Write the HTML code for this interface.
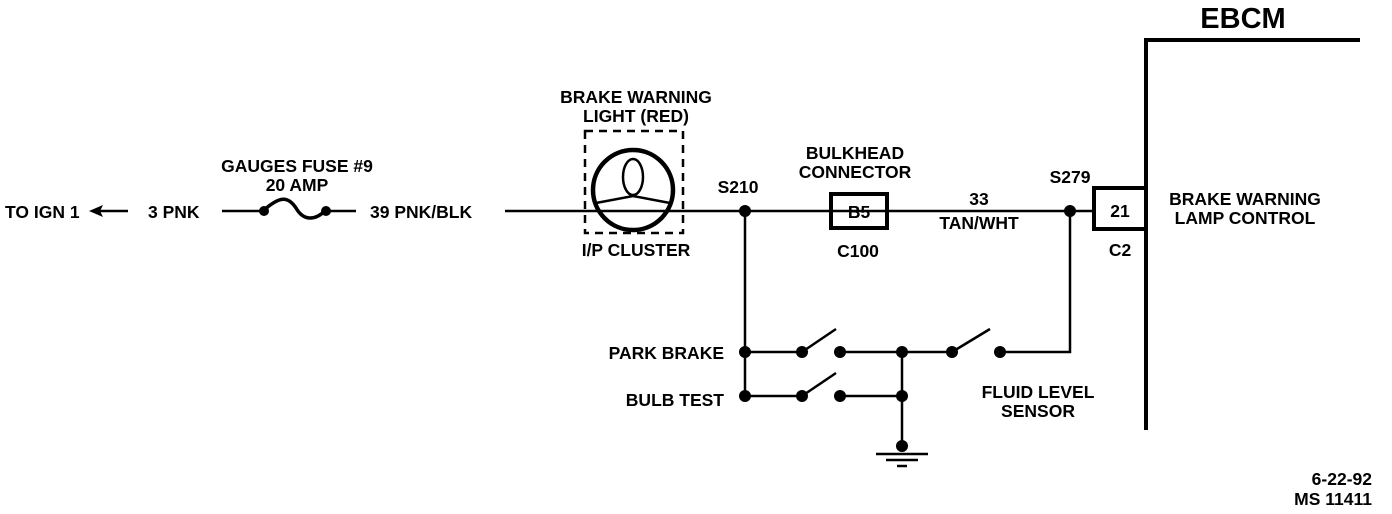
<!DOCTYPE html>
<html><head><meta charset="utf-8"><style>
html,body{margin:0;padding:0;background:#fff;}
svg{display:block;}
text{font-family:"Liberation Sans",sans-serif;font-weight:bold;font-size:17.5px;fill:#000;}
</style></head><body>
<svg width="1392" height="514" viewBox="0 0 1392 514" xmlns="http://www.w3.org/2000/svg">
<g stroke="#000" fill="none" stroke-width="2.5">
<line x1="95" y1="211" x2="128" y2="211"/>
<line x1="222" y1="211" x2="262" y2="211"/>
<path d="M264 210 C280 196 288 196 296 208 C304 222 316 220 326 210" stroke-width="3.5"/>
<line x1="326" y1="211" x2="356" y2="211"/>
<line x1="505" y1="211" x2="1093" y2="211"/>
<circle cx="633" cy="190" r="40" stroke-width="4.5"/>
<ellipse cx="633" cy="177" rx="10" ry="18"/>
<path d="M596 203 L633 196 L670 203"/>
<rect x="585" y="131" width="98" height="102" stroke-dasharray="8,6" stroke-width="2.5"/>
<rect x="831" y="194" width="56" height="34" stroke-width="4"/>
<rect x="1094" y="188" width="52" height="41" stroke-width="4"/>
<path d="M1146 430 L1146 40 L1360 40" stroke-width="4"/>
<line x1="745" y1="211" x2="745" y2="396"/>
<path d="M1070 211 L1070 352 L1000 352"/>
<line x1="745" y1="352" x2="802" y2="352"/>
<line x1="802" y1="352" x2="836" y2="329"/>
<line x1="840" y1="352" x2="952" y2="352"/>
<line x1="952" y1="352" x2="990" y2="329"/>
<line x1="745" y1="396" x2="802" y2="396"/>
<line x1="802" y1="396" x2="836" y2="373"/>
<line x1="840" y1="396" x2="902" y2="396"/>
<line x1="902" y1="352" x2="902" y2="446"/>
<line x1="876" y1="454" x2="928" y2="454"/>
<line x1="886" y1="460" x2="918" y2="460"/>
<line x1="897" y1="466" x2="907" y2="466"/>
</g>
<g fill="#000">
<path d="M89 211 L103 205 L100 211 L103 217 Z"/>
<circle cx="264" cy="211" r="5"/><circle cx="326" cy="211" r="5"/>
<circle cx="745" cy="211" r="6"/><circle cx="1070" cy="211" r="6"/>
<circle cx="745" cy="352" r="6"/><circle cx="802" cy="352" r="6"/><circle cx="840" cy="352" r="6"/>
<circle cx="902" cy="352" r="6"/><circle cx="952" cy="352" r="6"/><circle cx="1000" cy="352" r="6"/>
<circle cx="745" cy="396" r="6"/><circle cx="802" cy="396" r="6"/><circle cx="840" cy="396" r="6"/>
<circle cx="902" cy="396" r="6"/><circle cx="902" cy="446" r="6"/>
</g>
<text x="5" y="218">TO IGN 1</text>
<text x="148" y="218">3 PNK</text>
<text x="370" y="218">39 PNK/BLK</text>
<text x="297" y="172" text-anchor="middle">GAUGES FUSE #9</text>
<text x="297" y="191" text-anchor="middle">20 AMP</text>
<text x="636" y="103" text-anchor="middle">BRAKE WARNING</text>
<text x="636" y="122" text-anchor="middle">LIGHT (RED)</text>
<text x="636" y="256" text-anchor="middle">I/P CLUSTER</text>
<text x="738" y="193" text-anchor="middle">S210</text>
<text x="855" y="159" text-anchor="middle">BULKHEAD</text>
<text x="855" y="178" text-anchor="middle">CONNECTOR</text>
<text x="859" y="218" text-anchor="middle">B5</text>
<text x="858" y="257" text-anchor="middle">C100</text>
<text x="979" y="205" text-anchor="middle">33</text>
<text x="979" y="229" text-anchor="middle">TAN/WHT</text>
<text x="1070" y="183" text-anchor="middle">S279</text>
<text x="1120" y="217" text-anchor="middle">21</text>
<text x="1120" y="256" text-anchor="middle">C2</text>
<text x="1245" y="205" text-anchor="middle">BRAKE WARNING</text>
<text x="1245" y="224" text-anchor="middle">LAMP CONTROL</text>
<text x="1243" y="28" text-anchor="middle" style="font-size:29px">EBCM</text>
<text x="724" y="359" text-anchor="end">PARK BRAKE</text>
<text x="724" y="406" text-anchor="end">BULB TEST</text>
<text x="1038" y="398" text-anchor="middle">FLUID LEVEL</text>
<text x="1038" y="417" text-anchor="middle">SENSOR</text>
<text x="1372" y="485" text-anchor="end">6-22-92</text>
<text x="1372" y="505" text-anchor="end">MS 11411</text>
</svg>
</body></html>
